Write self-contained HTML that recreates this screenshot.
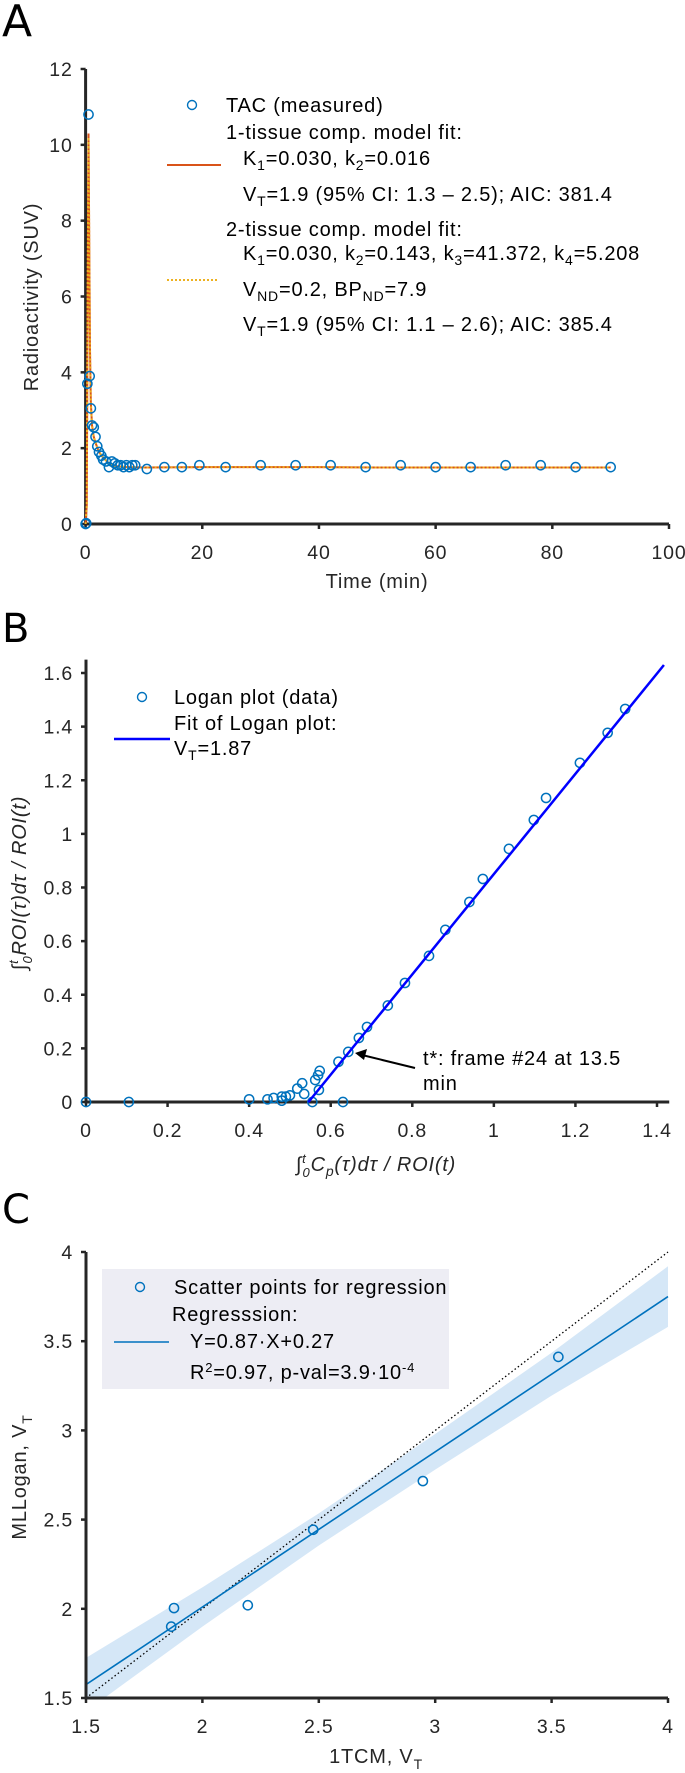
<!DOCTYPE html>
<html><head><meta charset="utf-8"><style>
html,body{margin:0;padding:0;background:#fff;}
svg{display:block;font-family:"Liberation Sans",Arial,sans-serif;}
svg text{letter-spacing:0.8px;}
</style></head><body>
<svg id="fig" width="685" height="1773" viewBox="0 0 685 1773" xmlns="http://www.w3.org/2000/svg">
<text x="2" y="36" font-size="44" font-family="DejaVu Sans, sans-serif" fill="#000" style="letter-spacing:0">A</text>
<text x="2" y="642" font-size="40" font-family="DejaVu Sans, sans-serif" fill="#000" style="letter-spacing:0">B</text>
<text x="2" y="1223" font-size="40" font-family="DejaVu Sans, sans-serif" fill="#000" style="letter-spacing:0">C</text>

<!-- Panel A labels / legend -->
<text x="377" y="588" font-size="20" text-anchor="middle" fill="#262626">Time (min)</text>
<text transform="translate(38,297) rotate(-90)" font-size="20" text-anchor="middle" fill="#262626">Radioactivity (SUV)</text>
<g font-size="20" fill="#000">
<circle cx="192" cy="105" r="4.5" fill="none" stroke="#0072BD" stroke-width="1.4"/>
<text x="226" y="112">TAC (measured)</text>
<text x="226" y="139">1-tissue comp. model fit:</text>
<text x="243" y="165">K<tspan font-size="14" dy="5">1</tspan><tspan dy="-5">=0.030, k</tspan><tspan font-size="14" dy="5">2</tspan><tspan dy="-5">=0.016</tspan></text>
<line x1="167" y1="165" x2="221" y2="165" stroke="#D95319" stroke-width="2"/>
<text x="243" y="201">V<tspan font-size="14" dy="5">T</tspan><tspan dy="-5">=1.9 (95% CI: 1.3 – 2.5); AIC: 381.4</tspan></text>
<text x="226" y="236">2-tissue comp. model fit:</text>
<text x="243" y="260">K<tspan font-size="14" dy="5">1</tspan><tspan dy="-5">=0.030, k</tspan><tspan font-size="14" dy="5">2</tspan><tspan dy="-5">=0.143, k</tspan><tspan font-size="14" dy="5">3</tspan><tspan dy="-5">=41.372, k</tspan><tspan font-size="14" dy="5">4</tspan><tspan dy="-5">=5.208</tspan></text>
<line x1="167" y1="280" x2="218" y2="280" stroke="#EDB120" stroke-width="2" stroke-dasharray="2,2"/>
<text x="243" y="296">V<tspan font-size="14" dy="5">ND</tspan><tspan dy="-5">=0.2, BP</tspan><tspan font-size="14" dy="5">ND</tspan><tspan dy="-5">=7.9</tspan></text>
<text x="243" y="331">V<tspan font-size="14" dy="5">T</tspan><tspan dy="-5">=1.9 (95% CI: 1.1 – 2.6); AIC: 385.4</tspan></text>
</g>

<!-- Panel B labels / legend -->
<text x="376" y="1171" font-size="20" font-style="italic" text-anchor="middle" fill="#262626">∫<tspan font-size="13" dy="-8">t</tspan><tspan font-size="13" dx="-4" dy="14">0</tspan><tspan dy="-6">C</tspan><tspan font-size="14" dy="5">p</tspan><tspan dy="-5">(τ)dτ / ROI(t)</tspan></text>
<text transform="translate(26,883) rotate(-90)" font-size="20" font-style="italic" text-anchor="middle" fill="#262626">∫<tspan font-size="13" dy="-8">t</tspan><tspan font-size="13" dx="-4" dy="14">0</tspan><tspan dy="-6">ROI(τ)dτ / ROI(t)</tspan></text>
<g font-size="20" fill="#000">
<circle cx="142" cy="697" r="4.5" fill="none" stroke="#0072BD" stroke-width="1.4"/>
<text x="174" y="704">Logan plot (data)</text>
<text x="174" y="730">Fit of Logan plot:</text>
<line x1="114" y1="739" x2="170" y2="739" stroke="#0000FF" stroke-width="2.5"/>
<text x="174" y="755">V<tspan font-size="14" dy="5">T</tspan><tspan dy="-5">=1.87</tspan></text>
</g>
<g>
<line x1="415" y1="1068" x2="362" y2="1055" stroke="#000" stroke-width="2"/>
<polygon points="355,1053 367,1049 364,1060" fill="#000"/>
<text x="423" y="1065" font-size="20" fill="#000">t*: frame #24 at 13.5</text>
<text x="423" y="1090" font-size="20" fill="#000">min</text>
</g>

<!-- Panel C labels / legend -->
<text x="376" y="1763" font-size="20" text-anchor="middle" fill="#262626">1TCM, V<tspan font-size="14" dy="6">T</tspan></text>
<text transform="translate(26,1477) rotate(-90)" font-size="20" text-anchor="middle" fill="#262626">MLLogan, V<tspan font-size="14" dy="6">T</tspan></text>

<g id="chartA"></g>
<g id="chartB"></g>
<g id="chartC"></g>

<g font-size="20" fill="#000">
<rect x="102" y="1269" width="347" height="120" fill="#ebebf3" opacity="0.92"/>
<circle cx="140" cy="1287" r="4.5" fill="none" stroke="#0072BD" stroke-width="1.4"/>
<text x="174" y="1294">Scatter points for regression</text>
<text x="172" y="1321">Regresssion:</text>
<line x1="114" y1="1342" x2="169" y2="1342" stroke="#0072BD" stroke-width="1.6"/>
<text x="190" y="1348">Y=0.87·X+0.27</text>
<text x="190" y="1379">R<tspan font-size="13" dy="-7">2</tspan><tspan dy="7">=0.97, p-val=3.9·10</tspan><tspan font-size="13" dy="-7">-4</tspan></text>
</g>
</svg>
<script>
// ---------- Panel A data ----------
const aTicksX = [0, 20, 40, 60, 80, 100];
const aTicksY = [0, 2, 4, 6, 8, 10, 12];
const tacTime = [0, 0.1, 0.3, 0.5, 0.7, 0.9, 1.1, 1.4, 1.7, 2, 2.3, 2.7, 3, 3.5, 4, 4.5, 5, 5.5, 6, 6.5, 7, 7.5, 8, 8.5, 10.5, 13.5, 16.5, 19.5, 24, 30, 36, 42, 48, 54, 60, 66, 72, 78, 84, 90];
const tacValue = [0, 0.02, 3.7, 10.8, 3.9, 3.05, 2.6, 2.55, 2.3, 2.05, 1.9, 1.8, 1.7, 1.65, 1.5, 1.65, 1.6, 1.55, 1.55, 1.5, 1.55, 1.5, 1.55, 1.55, 1.45, 1.5, 1.5, 1.55, 1.5, 1.55, 1.55, 1.55, 1.5, 1.55, 1.5, 1.5, 1.55, 1.55, 1.5, 1.5];
const fitTime = [0, 0.2, 0.35, 0.5, 0.6, 0.75, 0.9, 1.1, 1.4, 1.8, 2.3, 3, 4, 5, 7, 10, 20, 30, 40, 50, 60, 70, 80, 90];
const fit1tcm = [0, 0.5, 6.0, 10.3, 8.0, 4.6, 3.2, 2.6, 2.3, 2.1, 1.9, 1.75, 1.6, 1.53, 1.5, 1.49, 1.5, 1.5, 1.5, 1.49, 1.49, 1.49, 1.49, 1.49];
const fit2tcm = [0, 0.5, 6.2, 10.2, 8.1, 4.7, 3.1, 2.6, 2.3, 2.1, 1.9, 1.75, 1.6, 1.53, 1.5, 1.49, 1.5, 1.5, 1.5, 1.49, 1.49, 1.49, 1.49, 1.49];

// ---------- Panel B data ----------
const bTicksX = [0, 0.2, 0.4, 0.6, 0.8, 1, 1.2, 1.4];
const bTicksY = [0, 0.2, 0.4, 0.6, 0.8, 1, 1.2, 1.4, 1.6];
const loganX = [0, 0.105, 0.40, 0.445, 0.46, 0.48, 0.48, 0.49, 0.50, 0.518, 0.53, 0.535, 0.555, 0.562, 0.569, 0.571, 0.573, 0.619, 0.63, 0.643, 0.669, 0.689, 0.740, 0.782, 0.841, 0.881, 0.940, 0.973, 1.037, 1.098, 1.128, 1.211, 1.279, 1.322];
const loganY = [0, 0, 0.01, 0.01, 0.015, 0.02, 0.005, 0.02, 0.025, 0.05, 0.07, 0.03, 0, 0.082, 0.10, 0.045, 0.116, 0.15, 0, 0.187, 0.239, 0.28, 0.36, 0.444, 0.545, 0.642, 0.746, 0.832, 0.944, 1.052, 1.134, 1.265, 1.377, 1.466];
const loganSlope = [1.87];
const loganIntercept = [-1.02];
const loganFitRange = [0.545, 1.417];

// ---------- Panel C data ----------
const cTicksX = [1.5, 2, 2.5, 3, 3.5, 4];
const cTicksY = [1.5, 2, 2.5, 3, 3.5, 4];
const tcmVT = [1.878, 1.866, 2.195, 2.476, 2.947, 3.529];
const mlloganVT = [2.004, 1.90, 2.02, 2.443, 2.716, 3.412];
const regSlope = [0.87];
const regIntercept = [0.27];
const ciX = [1.5, 2, 2.5, 3, 3.5, 4];
const ciHalf = [0.15, 0.11, 0.09, 0.10, 0.12, 0.17];

const NS = "http://www.w3.org/2000/svg";
function mk(tag, attrs, parent) {
  const el = document.createElementNS(NS, tag);
  for (const k in attrs) el.setAttribute(k, attrs[k]);
  parent.appendChild(el);
  return el;
}
function lin(d0, d1, r0, r1) { return v => r0 + (v - d0) * (r1 - r0) / (d1 - d0); }

function drawAxes(g, sx, sy, xTicks, yTicks, xRange, yRange, prefix, fmt) {
  const x0 = sx(xRange[0]), x1 = sx(xRange[1]);
  const yb = sy(yRange[0]), yt = sy(yRange[1]);
  let el = mk("line", {x1: x0, y1: yb, x2: x1, y2: yb, stroke: "#262626", "stroke-width": 3}, g);
  
  
  el = mk("line", {x1: x0, y1: yb + 1.5, x2: x0, y2: yt, stroke: "#262626", "stroke-width": 3}, g);
  
  
  xTicks.forEach(v => {
    const x = sx(v);
    let t = mk("line", {x1: x, y1: yb, x2: x, y2: yb + 5, stroke: "#262626", "stroke-width": 2.5}, g);
    
    
    t = mk("text", {x: x, y: yb + 35, "font-size": 19.5, "text-anchor": "middle", fill: "#262626"}, g);
    t.textContent = fmt(v);
    
    
  });
  yTicks.forEach(v => {
    const y = sy(v);
    let t = mk("line", {x1: x0 - 5, y1: y, x2: x0, y2: y, stroke: "#262626", "stroke-width": 2.5}, g);
    
    
    t = mk("text", {x: x0 - 13, y: y + 7, "font-size": 19.5, "text-anchor": "end", fill: "#262626"}, g);
    t.textContent = fmt(v);
    
    
  });
}
function circles(g, xs, ys, sx, sy, name) {
  xs.forEach((v, i) => {
    const c = mk("circle", {cx: sx(v), cy: sy(ys[i]), r: 4.6, fill: "none", stroke: "#0072BD", "stroke-width": 1.5}, g);
    
    
  });
}
function pathOf(xs, ys, sx, sy) {
  return xs.map((v, i) => (i ? "L" : "M") + sx(v).toFixed(2) + "," + sy(ys[i]).toFixed(2)).join(" ");
}

// Panel A
(function () {
  const g = document.getElementById("chartA");
  const sx = lin(0, 100, 85.6, 669), sy = lin(0, 12, 524, 69);
  drawAxes(g, sx, sy, aTicksX, aTicksY, [0, 100], [0, 12], "a", v => String(v));
  let p = mk("path", {d: pathOf(fitTime, fit1tcm, sx, sy), fill: "none", stroke: "#D95319", "stroke-width": 2}, g);
  
  
  p = mk("path", {d: pathOf(fitTime, fit2tcm, sx, sy), fill: "none", stroke: "#EDB120", "stroke-width": 2, "stroke-dasharray": "2,2"}, g);
  
  
  circles(g, tacTime, tacValue, sx, sy, "tac-point");
})();

// Panel B
(function () {
  const g = document.getElementById("chartB");
  const sx = lin(0, 1.4, 86, 657), sy = lin(0, 1.6, 1102, 673);
  drawAxes(g, sx, sy, bTicksX, bTicksY, [0, 1.43], [0, 1.65], "b", v => String(Math.round(v * 10) / 10));
  circles(g, loganX, loganY, sx, sy, "logan-point");
  const xa = loganFitRange[0], xb = loganFitRange[1];
  const l = mk("line", {x1: sx(xa), y1: sy(loganSlope[0] * xa + loganIntercept[0]), x2: sx(xb), y2: sy(loganSlope[0] * xb + loganIntercept[0]), stroke: "#0000FF", "stroke-width": 2.5}, g);
  
  
})();

// Panel C
(function () {
  const g = document.getElementById("chartC");
  const sx = lin(1.5, 4, 86, 668), sy = lin(1.5, 4, 1698, 1252);
  const clip = mk("clipPath", {id: "clipC"}, g);
  mk("rect", {x: 86, y: 1240, width: 584, height: 458}, clip);
  const inner = mk("g", {"clip-path": "url(#clipC)"}, g);
  const up = ciX.map((v, i) => regSlope[0] * v + regIntercept[0] + ciHalf[i]);
  const lo = ciX.map((v, i) => regSlope[0] * v + regIntercept[0] - ciHalf[i]);
  const d = pathOf(ciX, up, sx, sy) + " " + pathOf(ciX.slice().reverse(), lo.slice().reverse(), sx, sy).replace("M", "L") + " Z";
  let el = mk("path", {d: d, fill: "#d5e7f7", stroke: "none"}, inner);
  
  
  el = mk("line", {x1: sx(1.5), y1: sy(1.5), x2: sx(4), y2: sy(4), stroke: "#000", "stroke-width": 1.3, "stroke-dasharray": "1.5,2.5"}, inner);
  
  
  el = mk("line", {x1: sx(1.5), y1: sy(regSlope[0] * 1.5 + regIntercept[0]), x2: sx(4), y2: sy(regSlope[0] * 4 + regIntercept[0]), stroke: "#0072BD", "stroke-width": 1.6}, inner);
  
  
  drawAxes(g, sx, sy, cTicksX, cTicksY, [1.5, 4], [1.5, 4], "c", v => String(v));
  circles(g, tcmVT, mlloganVT, sx, sy, "scatter-point");
})();
</script>
</body></html>
